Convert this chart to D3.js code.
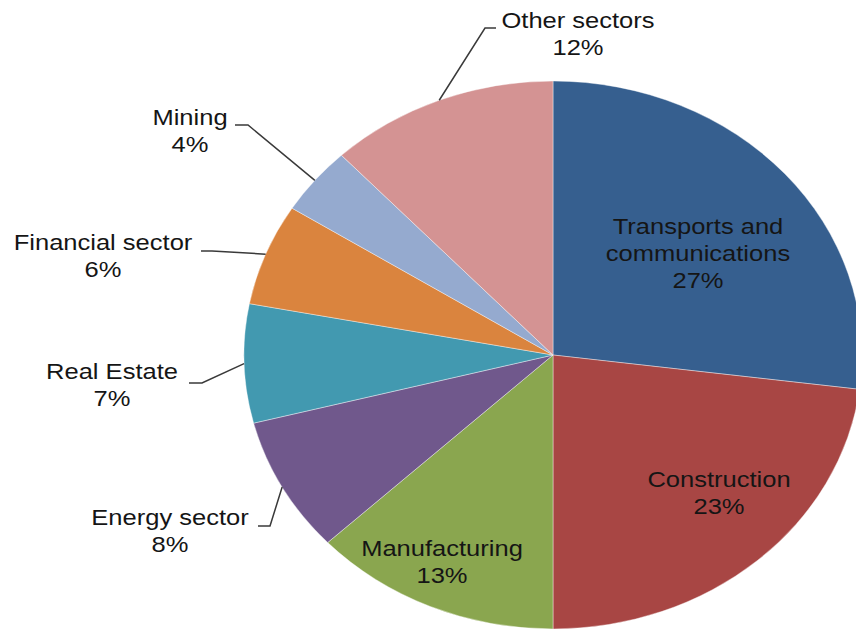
<!DOCTYPE html>
<html>
<head lang="en">
    <meta charset="UTF-8">
    <title></title>
    <script src="https://cdn.jsdelivr.net/npm/d3@7/dist/d3.min.js"></script>
    <style>
        body{margin:0;background:#fff;}
        text{font-family:"Liberation Sans",Arial,sans-serif;font-size:22px;fill:#151515;}
    </style>
</head>
<body>
</body>
</html>
<script>
    // data (clockwise from 12 o'clock)
    var sectors=["Transports and communications","Construction","Manufacturing","Energy sector",
        "Real Estate","Financial sector","Mining","Other sectors"];
    var shares=[27,23,13,8,7,6,4,12];
    var colors=["#365F8F","#A84644","#8AA64F","#70588C","#4299B0","#DA843E","#95AACF","#D49393"];

    // layout: label lines, first baseline, and leader elbow/end (null = inside label)
    var labelLines=[["Transports and","communications"],["Construction"],["Manufacturing"],["Energy sector"],
        ["Real Estate"],["Financial sector"],["Mining"],["Other sectors"]];
    var labelPos=[[698,234],[719,487],[442,556],[170,525],[112,379],[103,250],[190,125],[578,28]];
    var leaders=[null,null,null,[[270,526],[258,526]],[[202,383],[189,383]],[[212,251],[201,251]],
        [[248,125],[235,125]],[[485,28],[496,28]]];

    var W=856,H=630;
    var cx=553,cy=355,ry=274,sx=1.128;
    var textScale=1.16;

    var _svg=d3.select('body')
            .append('svg')
            .attr('width',W)
            .attr('height',H);

    var _pie=d3.pie()
            .sort(null)
            .value(function(d){return d;});
    var _piedata=_pie(shares);
    var _arc=d3.arc()
            .innerRadius(0)
            .outerRadius(ry);

    var _g=_svg.append('g')
            .attr('transform','translate('+cx+','+cy+') scale('+sx+',1)');
    _g.selectAll('.slice')
            .data(_piedata)
            .enter()
            .append('path')
            .attr('class','slice')
            .attr('d',_arc)
            .attr('fill',function(d,i){return colors[i];})
            .attr('stroke','#fff')
            .attr('stroke-width',0.4)
            .attr('vector-effect','non-scaling-stroke');

    // leader lines: from slice edge at mid angle to the label
    function edgePoint(d){
        var a=(d.startAngle+d.endAngle)/2;
        return [cx+Math.sin(a)*ry*sx, cy-Math.cos(a)*ry];
    }
    var _line=d3.line();
    _svg.selectAll('.leader')
            .data(_piedata.filter(function(d,i){return leaders[i];}))
            .enter()
            .append('path')
            .attr('class','leader')
            .attr('d',function(d){
                return _line([edgePoint(d)].concat(leaders[d.index]));
            })
            .attr('fill','none')
            .attr('stroke','#3a3a3a')
            .attr('stroke-width',1.5);

    var _labels=_svg.selectAll('.label')
            .data(_piedata)
            .enter()
            .append('g')
            .attr('class','label')
            .attr('transform',function(d,i){
                return 'translate('+labelPos[i][0]+','+labelPos[i][1]+') scale('+textScale+',1)';
            });
    _labels.append('text')
            .attr('text-anchor','middle')
            .each(function(d,i){
                var t=d3.select(this);
                var lines=labelLines[i].concat([d3.format('d')(d.value)+'%']);
                lines.forEach(function(s,j){
                    t.append('tspan')
                            .attr('x',0)
                            .attr('y',j*27)
                            .text(s);
                });
            });
</script>
